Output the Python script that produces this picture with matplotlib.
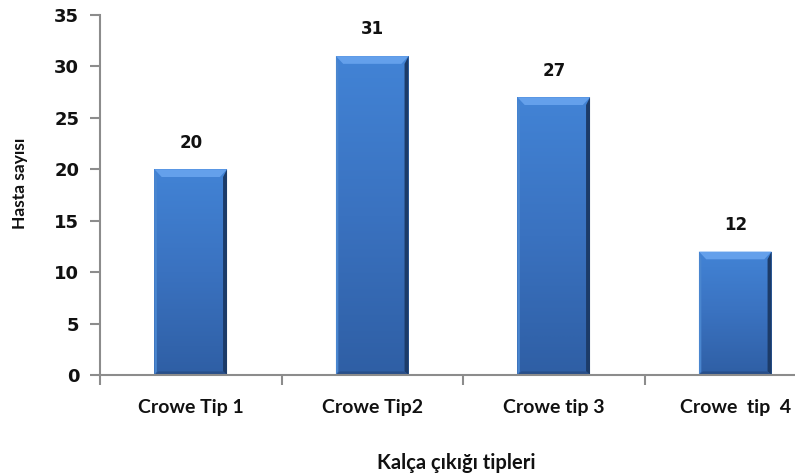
import matplotlib

matplotlib.use("Agg")
import matplotlib.pyplot as plt
import numpy as np
from matplotlib.colors import LinearSegmentedColormap
from matplotlib.patches import Polygon

categories = ["Crowe Tip 1", "Crowe Tip2", "Crowe tip 3", "Crowe  tip  4"]
counts = [20, 31, 27, 12]
y_ticks = [0, 5, 10, 15, 20, 25, 30, 35]

plt.rcParams["font.family"] = ["Lato", "DejaVu Sans"]
plt.rcParams["font.weight"] = "bold"
NUM_FONT = ["DejaVu Sans"]
TXT = "#111111"
GREY = "#8c8c8c"

fig = plt.figure(figsize=(7.95, 4.75), dpi=100)
# axis spans a little past the right edge of the canvas
ax = fig.add_axes([100 / 795, 100 / 475, 726 / 795, 360 / 475])

x = np.arange(len(categories))
width = 0.40
bars = ax.bar(x, counts, width=width, color="#3a74c2", edgecolor="none", zorder=2)

# vertical shading inside each bar, lighter at the top
shade = LinearSegmentedColormap.from_list("shade", ["#2f5fa5", "#3a72c0", "#4283d5"])
grad = np.linspace(0, 1, 64).reshape(-1, 1)
for b in bars:
    x0, w, h = b.get_x(), b.get_width(), b.get_height()
    im = ax.imshow(grad, cmap=shade, aspect="auto", extent=[x0, x0 + w, 0, h],
                   origin="lower", zorder=2.1, interpolation="bicubic")
    im.set_clip_path(b)
    # bevel: light top, dark right edge, darker bottom, faint light left edge
    bw = w * 0.10
    bh = 0.75
    rw = w * 0.055
    ax.add_patch(Polygon([[x0, h], [x0 + w, h], [x0 + w - bw, h - bh], [x0 + bw, h - bh]],
                         closed=True, facecolor="#64a0eb", edgecolor="none", zorder=2.2))
    ax.add_patch(Polygon([[x0 + w, h], [x0 + w, 0], [x0 + w - rw, 0.35], [x0 + w - rw, h - bh]],
                         closed=True, facecolor="#1c3b68", edgecolor="none", zorder=2.2))
    ax.add_patch(Polygon([[x0, 0], [x0 + w, 0], [x0 + w - rw, 0.35], [x0 + rw, 0.35]],
                         closed=True, facecolor="#284f8a", edgecolor="none", zorder=2.2))
    ax.add_patch(Polygon([[x0, h], [x0, 0], [x0 + rw * 0.6, 0.35], [x0 + rw * 0.6, h - bh]],
                         closed=True, facecolor="#4a86cf", edgecolor="none", zorder=2.2))
    ax.text(x0 + w / 2, h + 2.6, f"{h:g}", ha="center", va="center",
            fontsize=12, fontweight="bold", color=TXT, family=NUM_FONT)

ax.set_xlim(-0.5, len(categories) - 0.5)
ax.set_ylim(0, 35)
ax.set_yticks(y_ticks)
ax.set_xticks(x)
ax.set_xticklabels(categories)
ax.set_xticks(np.arange(len(categories) + 1) - 0.5, minor=True)
ax.tick_params(axis="x", which="major", length=0, pad=17, labelsize=14)
ax.tick_params(axis="x", which="minor", length=7, width=1.5, color=GREY, direction="out")
ax.tick_params(axis="y", length=7, width=1.5, color=GREY, direction="out", pad=8, labelsize=13)
for lab in ax.get_xticklabels():
    lab.set_fontweight("bold")
    lab.set_color(TXT)
for lab in ax.get_yticklabels():
    lab.set_fontweight("bold")
    lab.set_color(TXT)
    lab.set_family(NUM_FONT)

for side in ("top", "right"):
    ax.spines[side].set_visible(False)
for side in ("left", "bottom"):
    ax.spines[side].set_color(GREY)
    ax.spines[side].set_linewidth(1.5)

fig.text(20 / 795, 1 - 183 / 475, "Hasta sayısı", ha="center", va="center", rotation=90,
         fontsize=12.5, fontweight="bold", color=TXT)
fig.text(456 / 795, 1 - 463 / 475, "Kalça çıkığı tipleri", ha="center", va="center",
         fontsize=14.5, fontweight="bold", color=TXT)

fig.savefig("out.png", dpi=100)
